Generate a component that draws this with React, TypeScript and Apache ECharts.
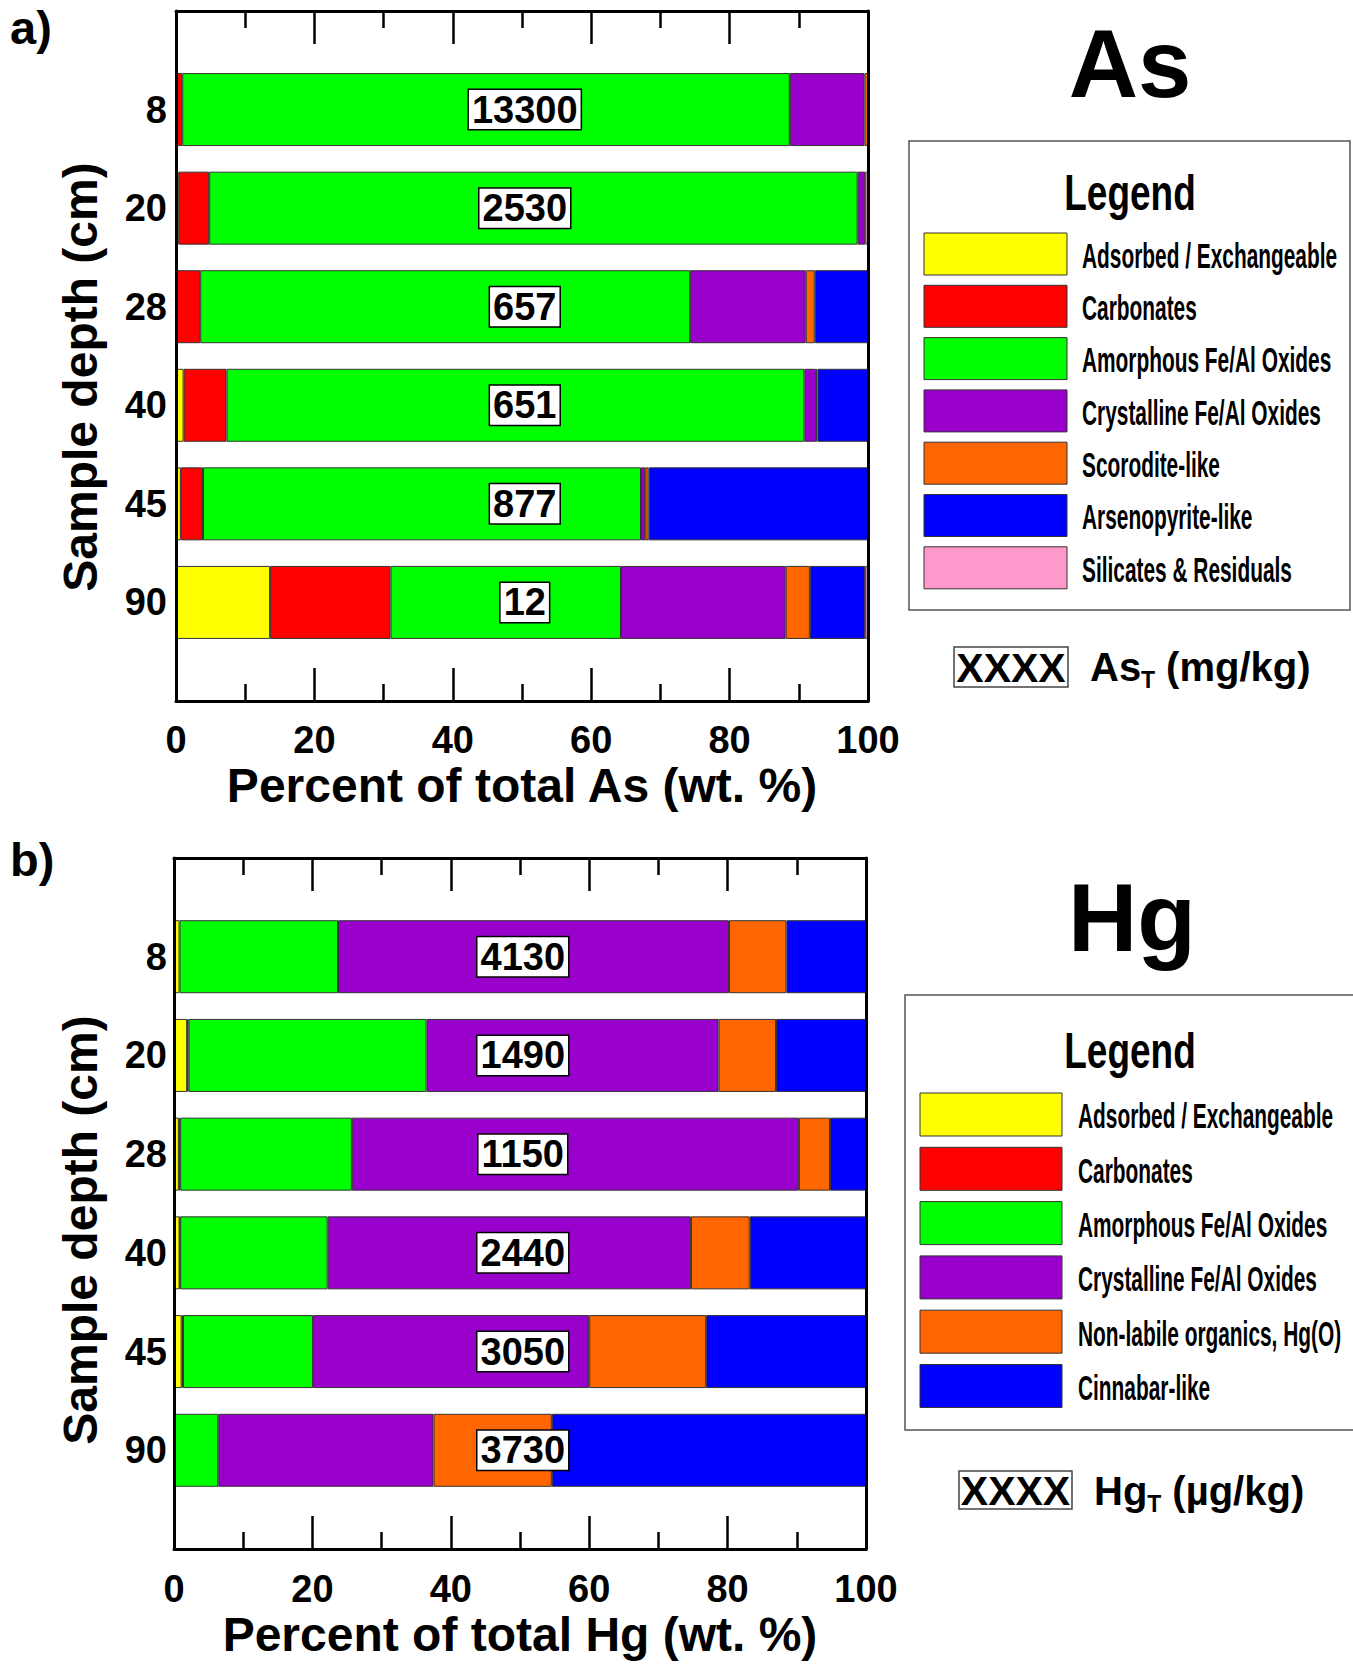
import React, { useEffect, useRef } from "react";
import * as echarts from "echarts";

const FONT = "'Liberation Sans', Arial, Helvetica, sans-serif";

const depthLabels = ["", "8", "20", "28", "40", "45", "90", ""];

const asNames = [
  "Adsorbed / Exchangeable",
  "Carbonates",
  "Amorphous Fe/Al Oxides",
  "Crystalline Fe/Al Oxides",
  "Scorodite-like",
  "Arsenopyrite-like",
  "Silicates & Residuals",
];
const asColors = ["#FFFF00", "#FF0000", "#00FF00", "#9900CC", "#FF6600", "#0000FF", "#FF99CC"];
// rows: 8, 20, 28, 40, 45, 90 cm
const asAdsorbed = [0, 0.4, 0.1, 1.1, 0.7, 13.6];
const asCarbonates = [0.9, 4.4, 3.4, 6.2, 3.2, 17.4];
const asAmorphous = [87.8, 93.7, 70.8, 83.5, 63.3, 33.3];
const asCrystalline = [10.8, 1.1, 16.7, 1.7, 0.6, 23.8];
const asScorodite = [0.5, 0, 1.3, 0.2, 0.5, 3.5];
const asArsenopyrite = [0, 0, 7.7, 7.3, 31.7, 8.0];
const asSilicates = [0, 0.4, 0, 0, 0, 0.4];
const asTotals = [13300, 2530, 657, 651, 877, 12];

const hgNames = [
  "Adsorbed / Exchangeable",
  "Carbonates",
  "Amorphous Fe/Al Oxides",
  "Crystalline Fe/Al Oxides",
  "Non-labile organics, Hg(O)",
  "Cinnabar-like",
];
const hgColors = ["#FFFF00", "#FF0000", "#00FF00", "#9900CC", "#FF6600", "#0000FF"];
const hgAdsorbed = [0.8, 1.9, 0.7, 0.8, 1.1, 0];
const hgCarbonates = [0, 0.2, 0.2, 0.1, 0.2, 0];
const hgAmorphous = [22.9, 34.4, 24.8, 21.3, 18.8, 6.4];
const hgCrystalline = [56.5, 42.2, 64.6, 52.5, 39.9, 31.1];
const hgNonLabile = [8.3, 8.3, 4.5, 8.5, 16.9, 17.1];
const hgCinnabar = [11.5, 13.0, 5.2, 16.8, 23.1, 45.4];
const hgTotals = [4130, 1490, 1150, 2440, 3050, 3730];

const asSeriesValues = [asAdsorbed, asCarbonates, asAmorphous, asCrystalline, asScorodite, asArsenopyrite, asSilicates];
const hgSeriesValues = [hgAdsorbed, hgCarbonates, hgAmorphous, hgCrystalline, hgNonLabile, hgCinnabar];

const pad = (vals: number[]) => [null, ...vals.map((v) => (v > 0 ? v : null)), null];

function xAxes(grid: number, title: string, labelMargin: number, nameGap: number) {
  const common = {
    gridIndex: grid,
    type: "value",
    min: 0,
    max: 100,
    interval: 20,
    z: 10,
    splitLine: { show: false },
    minorSplitLine: { show: false },
    axisLine: { show: true, lineStyle: { color: "#000", width: 3 } },
    axisTick: { show: true, inside: true, length: 33, lineStyle: { color: "#000", width: 2.5 } },
    minorTick: { show: true, splitNumber: 2, length: 17, lineStyle: { color: "#000", width: 2.5 } },
  };
  return [
    {
      ...common,
      position: "bottom",
      axisLabel: { show: true, fontSize: 38, fontWeight: "bold", color: "#000", margin: labelMargin, fontFamily: FONT },
      name: title,
      nameLocation: "middle",
      nameGap,
      nameTextStyle: { fontSize: 48, fontWeight: "bold", color: "#000", fontFamily: FONT },
    },
    { ...common, position: "top", axisLabel: { show: false } },
  ];
}

function yAxes(grid: number, labelMargin: number) {
  const common = {
    gridIndex: grid,
    type: "category",
    data: depthLabels,
    inverse: true,
    boundaryGap: false,
    z: 10,
    axisTick: { show: false },
    splitLine: { show: false },
    axisLine: { show: true, onZero: false, lineStyle: { color: "#000", width: 3 } },
  };
  return [
    {
      ...common,
      position: "left",
      axisLabel: { show: true, fontSize: 38, fontWeight: "bold", color: "#000", margin: labelMargin, fontFamily: FONT },
    },
    { ...common, position: "right", axisLabel: { show: false } },
  ];
}

function barSeries(names: string[], colors: string[], values: number[][], axisIdx: number, stack: string) {
  return names.map((name, i) => ({
    type: "bar",
    name,
    stack,
    xAxisIndex: axisIdx,
    yAxisIndex: axisIdx,
    barWidth: 73,
    silent: true,
    data: pad(values[i]),
    itemStyle: { color: colors[i], borderColor: "#333", borderWidth: 1 },
  }));
}

function totalSeries(totals: number[], axisIdx: number) {
  return {
    type: "scatter",
    xAxisIndex: axisIdx,
    yAxisIndex: axisIdx,
    symbol: "rect",
    symbolSize: 1,
    silent: true,
    z: 5,
    itemStyle: { color: "rgba(0,0,0,0)" },
    labelLayout: { hideOverlap: false },
    data: totals.map((t, i) => [50.4, i + 1, t]),
    label: {
      show: true,
      position: "inside",
      formatter: (p: any) => String(p.value[2]),
      fontSize: 38,
      fontWeight: "bold",
      fontFamily: FONT,
      color: "#000",
      opacity: 1,
      backgroundColor: "#fff",
      borderColor: "#000",
      borderWidth: 1.5,
      padding: [4, 3, 1, 3],
      lineHeight: 34,
    },
  };
}

function legendGraphics(
  names: string[],
  colors: string[],
  box: { x: number; y: number; w: number; h: number },
  titleY: number,
  swX: number,
  swW: number,
  swH: number,
  firstTop: number,
  step: number,
  labelX: number
) {
  const els: any[] = [
    {
      type: "rect",
      shape: { x: box.x, y: box.y, width: box.w, height: box.h },
      style: { fill: "#fff", stroke: "#555", lineWidth: 1.5 },
      z: 1,
    },
    {
      type: "text",
      x: 1130,
      y: titleY,
      scaleX: 0.74,
      z: 2,
      style: { text: "Legend", fontSize: 50, fontWeight: "bold", fontFamily: FONT, fill: "#000", align: "center", verticalAlign: "middle" },
    },
  ];
  names.forEach((n, i) => {
    const top = firstTop + i * step;
    els.push({
      type: "rect",
      z: 2,
      shape: { x: swX, y: top, width: swW, height: swH },
      style: { fill: colors[i], stroke: "#333", lineWidth: 1 },
    });
    els.push({
      type: "text",
      z: 2,
      x: labelX,
      y: top + swH / 2 + 1,
      scaleX: 0.58,
      style: { text: n, fontSize: 36, fontWeight: "bold", fontFamily: FONT, fill: "#000", align: "left", verticalAlign: "middle" },
    });
  });
  return els;
}

function unitGraphics(boxX: number, boxY: number, boxW: number, boxH: number, el: string, unit: string, textX: number, cy: number) {
  const fs = 40;
  const elW = (el === "As" ? 1.278 : 1.333) * fs;
  const tX = textX + elW;
  return [
    {
      type: "rect",
      shape: { x: boxX, y: boxY, width: boxW, height: boxH },
      style: { fill: "#fff", stroke: "#444", lineWidth: 1.5 },
    },
    {
      type: "text",
      x: boxX + boxW / 2,
      y: boxY + boxH / 2 + 1,
      style: { text: "XXXX", fontSize: 41, fontWeight: "bold", fontFamily: FONT, fill: "#000", align: "center", verticalAlign: "middle" },
    },
    {
      type: "text",
      x: textX,
      y: cy,
      style: { text: el, fontSize: fs, fontWeight: "bold", fontFamily: FONT, fill: "#000", align: "left", verticalAlign: "middle" },
    },
    {
      type: "text",
      x: tX,
      y: cy + 13,
      style: { text: "T", fontSize: 23, fontWeight: "bold", fontFamily: FONT, fill: "#000", align: "left", verticalAlign: "middle" },
    },
    {
      type: "text",
      x: tX + 25,
      y: cy,
      style: { text: unit, fontSize: fs, fontWeight: "bold", fontFamily: FONT, fill: "#000", align: "left", verticalAlign: "middle" },
    },
  ];
}

function yTitle(cy: number) {
  return {
    type: "text",
    x: 80,
    y: cy,
    rotation: Math.PI / 2,
    style: {
      text: "Sample depth (cm)",
      fontSize: 48,
      fontWeight: "bold",
      fontFamily: FONT,
      fill: "#000",
      align: "center",
      verticalAlign: "middle",
    },
  };
}

export default function App() {
  const ref = useRef<HTMLDivElement>(null);
  useEffect(() => {
    if (!ref.current) return;
    const chart = echarts.init(ref.current, null, { renderer: "svg" });
    const option: any = {
      animation: false,
      backgroundColor: "#fff",
      textStyle: { fontFamily: FONT },
      grid: [
        { left: 176, top: 11, width: 692, height: 690 },
        { left: 174, top: 858, width: 692, height: 691 },
      ],
      xAxis: [
        ...xAxes(0, "Percent of total As (wt. %)", 20, 60),
        ...xAxes(1, "Percent of total Hg (wt. %)", 21, 61),
      ],
      yAxis: [...yAxes(0, 9), ...yAxes(1, 7)],
      series: [
        ...barSeries(asNames, asColors, asSeriesValues, 0, "as"),
        totalSeries(asTotals, 0),
        ...barSeries(hgNames, hgColors, hgSeriesValues, 2, "hg"),
        totalSeries(hgTotals, 2),
      ],
      graphic: [
        yTitle(377),
        yTitle(1230),
        {
          type: "text",
          x: 10,
          y: 27,
          style: { text: "a)", fontSize: 47, fontWeight: "bold", fontFamily: FONT, fill: "#000", align: "left", verticalAlign: "middle" },
        },
        {
          type: "text",
          x: 10,
          y: 859,
          style: { text: "b)", fontSize: 47, fontWeight: "bold", fontFamily: FONT, fill: "#000", align: "left", verticalAlign: "middle" },
        },
        {
          type: "text",
          x: 1130,
          y: 63,
          style: { text: "As", fontSize: 96, fontWeight: "bold", fontFamily: FONT, fill: "#000", align: "center", verticalAlign: "middle" },
        },
        {
          type: "text",
          x: 1132,
          y: 917,
          style: { text: "Hg", fontSize: 96, fontWeight: "bold", fontFamily: FONT, fill: "#000", align: "center", verticalAlign: "middle" },
        },
        ...legendGraphics(asNames, asColors, { x: 909, y: 141, w: 441, h: 469 }, 192, 924, 143, 42, 233, 52.3, 1082),
        ...legendGraphics(hgNames, hgColors, { x: 905, y: 995, w: 460, h: 435 }, 1050, 920, 142, 43, 1093, 54.3, 1078),
        ...unitGraphics(954, 647, 114, 40, "As", "(mg/kg)", 1090, 667),
        ...unitGraphics(959, 1471, 113, 38, "Hg", "(\u00b5g/kg)", 1094, 1491),
      ],
    };
    chart.setOption(option);
    return () => chart.dispose();
  }, []);
  return <div ref={ref} style={{ position: "absolute", left: 0, top: 0, width: 1353, height: 1664 }} />;
}
